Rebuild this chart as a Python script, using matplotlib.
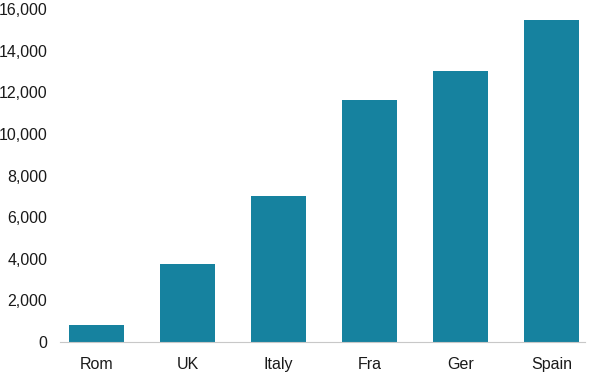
import matplotlib.pyplot as plt
import matplotlib.ticker as plticker

countries = ['Rom', 'UK', 'Italy', 'Fra', 'Ger', 'Spain']
values = [800, 3750, 7000, 11650, 13000, 15450]

plt.rcParams['font.family'] = ['Liberation Sans', 'DejaVu Sans']

fig = plt.figure(figsize=(5.92, 3.74), dpi=100)
ax = fig.add_axes([60 / 592, 32 / 374, 525 / 592, 333 / 374])

ax.bar(range(len(countries)), values, width=0.6, color='#16829f')

ax.set_xlim(-0.4, 5.37)
ax.set_ylim(0, 16000)
ax.yaxis.set_major_locator(plticker.MultipleLocator(2000))
ax.yaxis.set_major_formatter(plticker.FuncFormatter(lambda v, p: f'{int(v):,}'))
ax.set_xticks(range(len(countries)))
ax.set_xticklabels(countries)

for s in ['top', 'right', 'left']:
    ax.spines[s].set_visible(False)
ax.spines['bottom'].set_color('#c8c8c8')
ax.tick_params(axis='both', length=0, labelsize=11.5, colors='#1a1a1a')
ax.tick_params(axis='y', pad=9)
ax.tick_params(axis='x', pad=10.5)

fig.savefig('out.png', dpi=100)
